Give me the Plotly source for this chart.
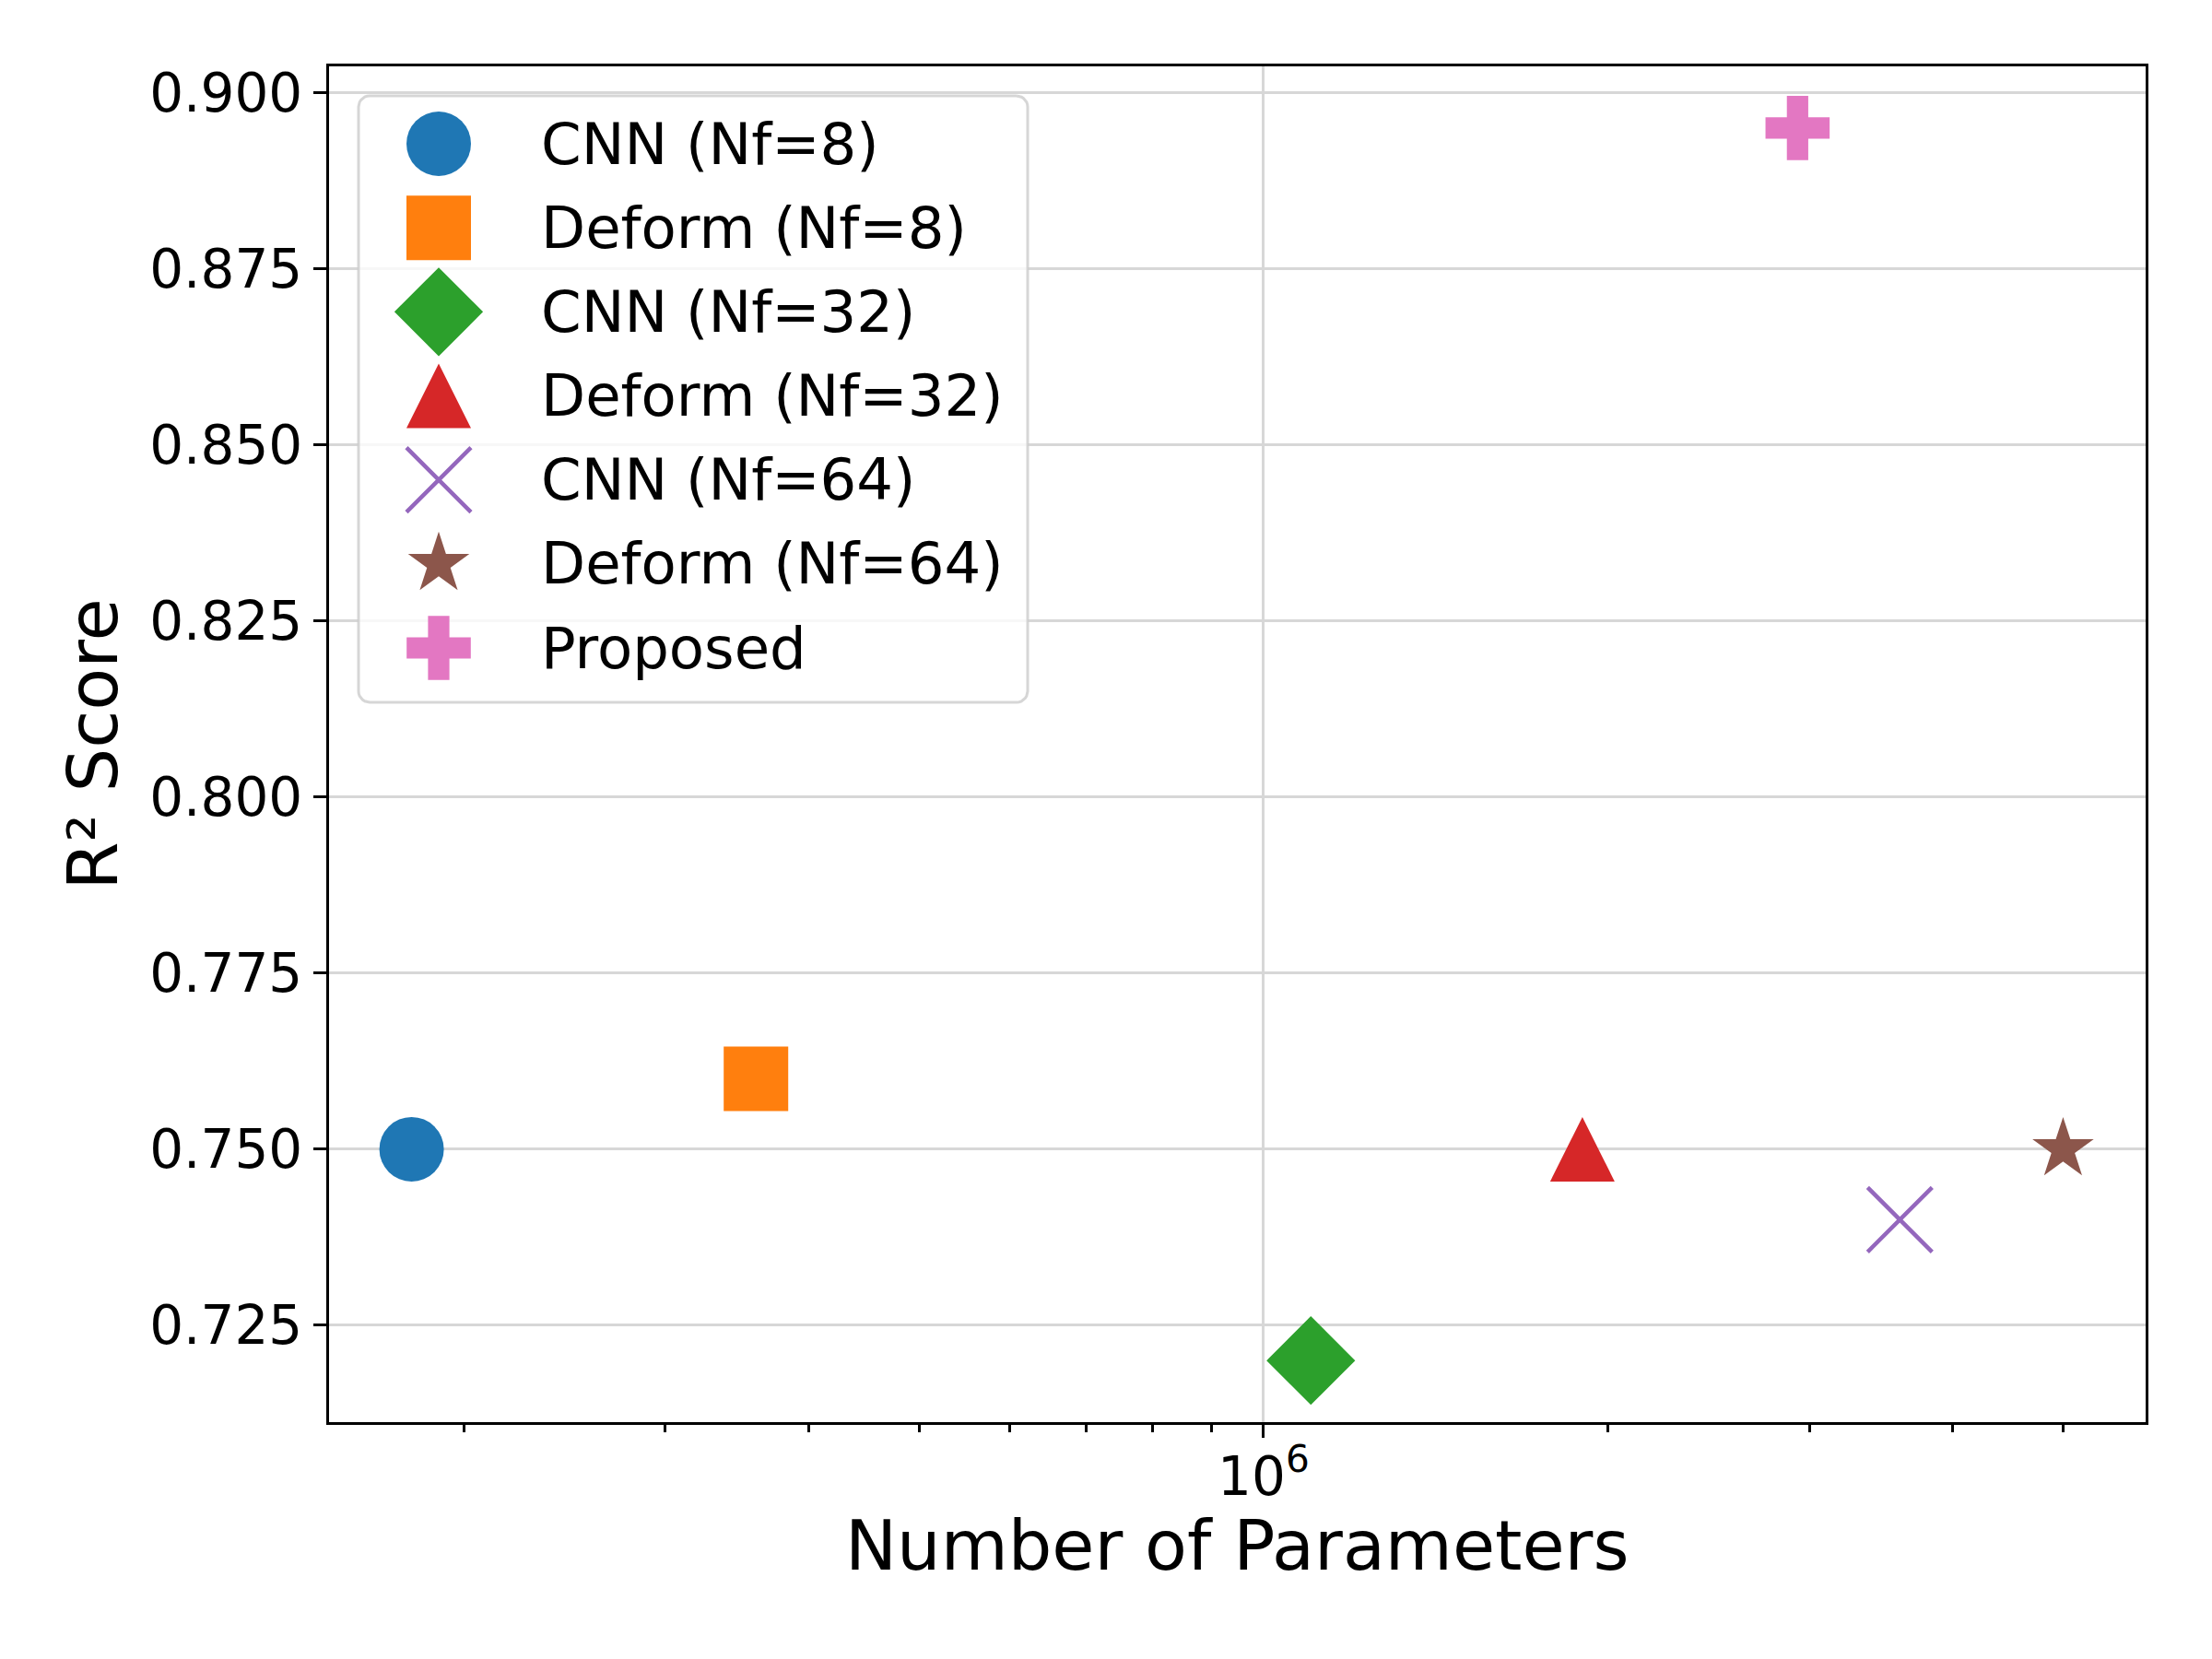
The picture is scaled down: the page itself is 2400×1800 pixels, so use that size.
import numpy as np
import plotly.graph_objects as go

# ---------------- data ----------------
labels = ["CNN (Nf=8)", "Deform (Nf=8)", "CNN (Nf=32)", "Deform (Nf=32)",
          "CNN (Nf=64)", "Deform (Nf=64)", "Proposed"]
params = [1.8e5, 3.6e5, 1.1e6, 1.9e6, 3.6e6, 5.0e6, 2.93e6]
r2_scores = [0.75, 0.76, 0.72, 0.75, 0.74, 0.75, 0.895]

y_ticks = [0.725, 0.750, 0.775, 0.800, 0.825, 0.850, 0.875, 0.900]
y_tick_text = ["0.725", "0.750", "0.775", "0.800", "0.825", "0.850", "0.875", "0.900"]
x_major_ticks = [1e6]
x_major_text = ["10<sup>6</sup>"]
x_minor_ticks = [2e5, 3e5, 4e5, 5e5, 6e5, 7e5, 8e5, 9e5, 2e6, 3e6, 4e6, 5e6]

# ---------------- styles ----------------
colors = ["#1f77b4", "#ff7f0e", "#2ca02c", "#d62728", "#9467bd", "#8c564b", "#e377c2"]
symbols = ["circle", "square", "diamond", "arrow-down", "x-thin", "star", "cross"]
sizes = [70, 70, 74, 70, 70, 50, 58]
angles = [0, 0, 0, 180, 0, 0, 0]
standoffs = [0, 0, 0, 35, 0, 0, 0]
FONT = "DejaVu Sans"

W, H = 2400, 1800
ML, MR, MT, MB = 357, 72, 72, 257
PW, PH = W - ML - MR, H - MT - MB

# axis ranges: 5% padding like matplotlib
lx = np.log10(params)
xpad = 0.05 * (lx.max() - lx.min())
x_range = [lx.min() - xpad, lx.max() + xpad]
ypad = 0.05 * (max(r2_scores) - min(r2_scores))
y_range = [min(r2_scores) - ypad, max(r2_scores) + ypad]


def marker_for(i):
    m = dict(symbol=symbols[i], size=sizes[i], color=colors[i],
             angle=angles[i], standoff=standoffs[i])
    if symbols[i] == "x-thin":
        m["line"] = dict(width=4.5, color=colors[i])
    else:
        m["line"] = dict(width=0)
    return m


def px_to_dom(px, py):
    return (px - ML) / PW, (H - MB - py) / PH


fig = go.Figure()
for i, lab in enumerate(labels):
    fig.add_trace(go.Scatter(x=[params[i]], y=[r2_scores[i]], mode="markers",
                             name=lab, marker=marker_for(i), showlegend=False,
                             xaxis="x", yaxis="y"))

# ---------------- custom legend (large markers like the original) ----------------
# legend frame (rounded rectangle) in pixel space -> domain fractions of overlay axes
bx0, by0, bx1, by1, rad = 389, 104, 1115, 762, 12
corners = [(bx1 - rad, by0 + rad, -90, 0), (bx1 - rad, by1 - rad, 0, 90),
           (bx0 + rad, by1 - rad, 90, 180), (bx0 + rad, by0 + rad, 180, 270)]
fx, fy = [], []
for cx, cy, a0, a1 in corners:
    for a in np.linspace(np.radians(a0), np.radians(a1), 8):
        dx, dy = px_to_dom(cx + rad * np.cos(a), cy + rad * np.sin(a))
        fx.append(dx)
        fy.append(dy)
fx.append(fx[0])
fy.append(fy[0])
fig.add_trace(go.Scatter(x=fx, y=fy, mode="lines", fill="toself",
                         fillcolor="rgba(255,255,255,0.8)",
                         line=dict(color="rgba(204,204,204,0.8)", width=3),
                         showlegend=False, hoverinfo="skip", xaxis="x2", yaxis="y2"))

leg_marker_x = px_to_dom(476, 0)[0]
leg_text_x = px_to_dom(585, 0)[0]
row_px = [156, 246, 337, 429, 520, 612, 703]
for i, lab in enumerate(labels):
    yy = px_to_dom(0, row_px[0] + i * (row_px[-1] - row_px[0]) / 6)[1]
    fig.add_trace(go.Scatter(x=[leg_marker_x], y=[yy], mode="markers", marker=marker_for(i),
                             showlegend=False, hoverinfo="skip", xaxis="x2", yaxis="y2"))
    fig.add_annotation(x=leg_text_x, y=yy, xref="paper", yref="paper", text=lab,
                       showarrow=False, xanchor="left", yanchor="middle",
                       font=dict(family=FONT, size=62.5, color="black"))

# axis titles
fig.add_annotation(x=px_to_dom(100, 0)[0], y=0.5, xref="paper", yref="paper", text="R² Score",
                   textangle=-90, showarrow=False, xanchor="center", yanchor="middle",
                   font=dict(family=FONT, size=75, color="black"))
fig.add_annotation(x=0.5, y=px_to_dom(0, 1677)[1], xref="paper", yref="paper",
                   text="Number of Parameters", showarrow=False, xanchor="center",
                   yanchor="middle", font=dict(family=FONT, size=75, color="black"))

axis_common = dict(showline=True, linecolor="black", linewidth=3.3, mirror=True,
                   ticks="outside", ticklen=14, tickwidth=3.3, tickcolor="black",
                   showgrid=True, gridcolor="#d7d7d7", gridwidth=3, zeroline=False,
                   tickfont=dict(family=FONT, size=58, color="black"))

fig.update_layout(
    width=W, height=H,
    margin=dict(l=ML, r=MR, t=MT, b=MB, pad=0),
    paper_bgcolor="white", plot_bgcolor="white",
    font=dict(family=FONT, color="black"),
    showlegend=False,
    xaxis=dict(type="log", range=x_range, tickmode="array", tickvals=x_major_ticks,
               ticktext=x_major_text, ticklabelstandoff=-8,
               minor=dict(tickmode="array", tickvals=x_minor_ticks, ticks="outside",
                          ticklen=8, tickwidth=2.5, tickcolor="black", showgrid=False),
               **axis_common),
    yaxis=dict(range=y_range, tickmode="array", tickvals=y_ticks, ticktext=y_tick_text,
               ticklabelstandoff=0, **axis_common),
    xaxis2=dict(overlaying="x", range=[0, 1], visible=False, fixedrange=True),
    yaxis2=dict(overlaying="y", range=[0, 1], visible=False, fixedrange=True),
)

fig.write_html("out.html", config={"displayModeBar": False},
               post_script="document.body.style.margin='0';")
